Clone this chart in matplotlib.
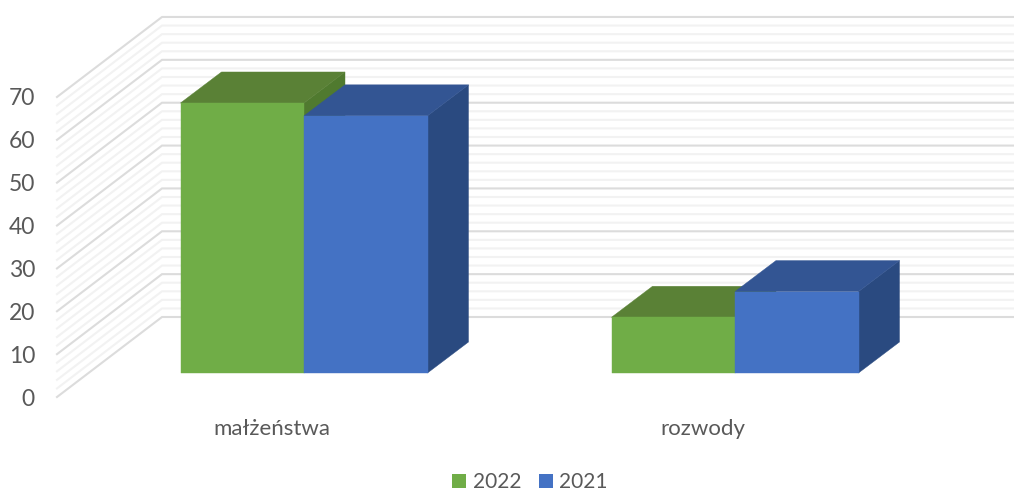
import matplotlib.pyplot as plt
from matplotlib.patches import Patch, Polygon

categories = ["małżeństwa", "rozwody"]
years = ["2022", "2021"]
values_2022 = [63, 13]
values_2021 = [60, 19]
ticks = [0, 10, 20, 30, 40, 50, 60, 70]
minor_ticks = [v for v in range(0, 71, 2) if v % 10 != 0]

front_colors = ["#70ad47", "#4472c4"]
top_colors = ["#5a8136", "#335593"]
side_colors = ["#507a2f", "#2a4a80"]
grey = "#595959"

W, H = 1014, 493
# one unit in pixels, x = category index, y = value
PX_CAT = 431.0
PX_VAL = 4.286

plt.rcParams["font.family"] = ["Lato", "DejaVu Sans"]
fig = plt.figure(figsize=(W / 100, H / 100), dpi=100)
ax = fig.add_axes([0, 0, 1, 1])
ax.set_xlim(-304 / PX_CAT, (W - 304) / PX_CAT)
ax.set_ylim(-(H - 373) / PX_VAL, 373 / PX_VAL)
ax.axis("off")

bar_w = 123.5 / PX_CAT
# oblique depth of the bars, and of the floor
depth_x, depth_y = 41 / PX_CAT, 31 / PX_VAL
front_x, front_y = -247 / PX_CAT, -24 / PX_VAL
wall_x, wall_y = -142 / PX_CAT, 56 / PX_VAL


def gridline(v, color, lw, zorder):
    ax.plot([front_x, wall_x, ax.get_xlim()[1]],
            [v + front_y, v + wall_y, v + wall_y],
            color=color, lw=lw, zorder=zorder, solid_joinstyle="miter")


for v in minor_ticks:
    gridline(v, "#f2f2f2", 1.5, 1)
for v in ticks:
    gridline(v, "#dcdcdc", 1.5, 2)


def box(x0, v, i, z):
    x1 = x0 + bar_w
    ax.add_patch(Polygon([(x1, 0), (x1 + depth_x, depth_y), (x1 + depth_x, v + depth_y), (x1, v)],
                         fc=side_colors[i], ec=side_colors[i], lw=0.3, zorder=z))
    ax.add_patch(Polygon([(x0, v), (x1, v), (x1 + depth_x, v + depth_y), (x0 + depth_x, v + depth_y)],
                         fc=top_colors[i], ec=top_colors[i], lw=0.3, zorder=z))
    ax.add_patch(Polygon([(x0, 0), (x1, 0), (x1, v), (x0, v)],
                         fc=front_colors[i], ec=front_colors[i], lw=0.3, zorder=z))


for c in range(len(categories)):
    box(c - bar_w, values_2022[c], 0, 3 + c)
    box(c, values_2021[c], 1, 3 + c)
    ax.text(c - 32 / PX_CAT, -56 / PX_VAL, categories[c], ha="center", va="center",
            fontsize=16, color=grey)

for v in ticks:
    ax.text(-269 / PX_CAT, v + front_y - 2 / PX_VAL, str(v), ha="right", va="center", fontsize=16.5, color=grey)

handles = [Patch(fc=front_colors[0], label=years[0]), Patch(fc=front_colors[1], label=years[1])]
ax.legend(handles=handles, loc="lower center", bbox_to_anchor=(530 / W, -12 / H), ncol=2, frameon=False,
          fontsize=15, labelcolor=grey, handlelength=0.68, handleheight=0.68,
          handletextpad=0.3, columnspacing=0.85, borderpad=0.1)

fig.savefig("out.png", dpi=100)
